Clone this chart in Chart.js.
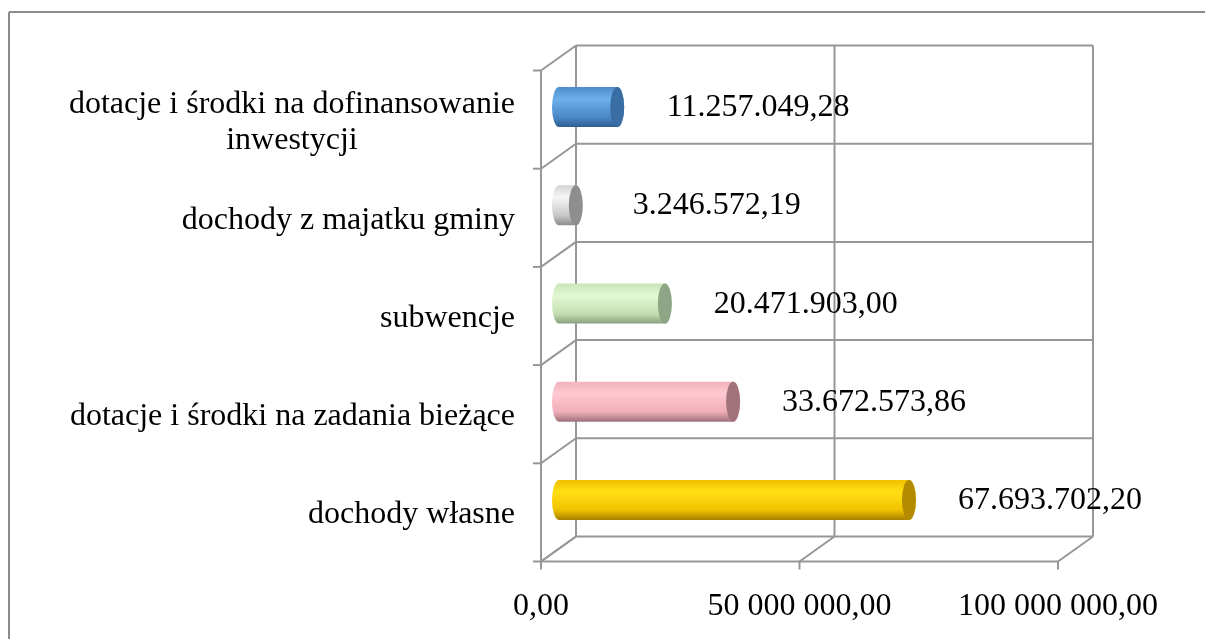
<!DOCTYPE html>
<html>
<head>
<meta charset="utf-8">
<script src="https://cdn.jsdelivr.net/npm/chart.js@4.4.1/dist/chart.umd.min.js"></script>
<style>
  html, body { margin: 0; padding: 0; background: #fff; overflow: hidden; }
  #wrap { width: 1205px; height: 639px; }
</style>
</head>
<body>
<div id="wrap"><canvas id="chart" width="1205" height="639"></canvas></div>
<script>
// data, top to bottom as in the picture
const categories = [
  ['dotacje i środki na dofinansowanie', 'inwestycji'],
  'dochody z majatku gminy',
  'subwencje',
  'dotacje i środki na zadania bieżące',
  'dochody własne'
];
const values = [11257049.28, 3246572.19, 20471903.00, 33672573.86, 67693702.20];
const valueLabels = ['11.257.049,28', '3.246.572,19', '20.471.903,00', '33.672.573,86', '67.693.702,20'];
const tickValues = [0, 50000000, 100000000];
const tickLabels = ['0,00', '50 000 000,00', '100 000 000,00'];

// cylinder shading: [top, highlight, lower, bottom] and cap colour
const bodyColors = [
  ['#4d8ccc', '#6db0ec', '#4a88c8', '#2f5e8e'],
  ['#d4d4d4', '#f6f6f6', '#c9c9c9', '#8a8a8a'],
  ['#c9e6b8', '#e2f8d4', '#c4e0b2', '#8aa27f'],
  ['#f3b2bd', '#ffc9d2', '#f0aeb9', '#9f727b'],
  ['#efc000', '#ffdf14', '#f0c200', '#a98000']
];
const capColors = ['#3a6ea3', '#8e8e8e', '#8da685', '#a2727b', '#b48b00'];

const FONT = '32px "Liberation Serif", "Times New Roman", serif';
const GRID = '#979797';
const BACK = { dx: 17, dy: -12.5 };
const FRONT = { dx: -18, dy: 12.5 };

function line(ctx, x1, y1, x2, y2) {
  ctx.beginPath();
  ctx.moveTo(x1, y1);
  ctx.lineTo(x2, y2);
  ctx.stroke();
}

const frame = {
  id: 'frame',
  beforeDraw(chart) {
    const ctx = chart.ctx;
    ctx.save();
    ctx.strokeStyle = '#8c8c8c';
    ctx.lineWidth = 2;
    line(ctx, 9, 12, 1205, 12);
    line(ctx, 9, 12, 9, 639);
    ctx.restore();
  }
};

const walls = {
  id: 'walls',
  beforeDatasetsDraw(chart) {
    const ctx = chart.ctx, xs = chart.scales.x, ys = chart.scales.y;
    const x0 = xs.getPixelForValue(0), xr = xs.getPixelForValue(tickValues[tickValues.length - 1]);
    const top = ys.getPixelForValue(-0.5), bottom = ys.getPixelForValue(categories.length - 0.5);
    ctx.save();
    ctx.strokeStyle = GRID;
    ctx.lineWidth = 2;
    // back wall + side wall
    for (let i = 0; i <= categories.length; i++) {
      const b = ys.getPixelForValue(i - 0.5);
      line(ctx, x0 + BACK.dx, b + BACK.dy, xr + BACK.dx, b + BACK.dy);
      line(ctx, x0 + FRONT.dx, b + FRONT.dy, x0 + BACK.dx, b + BACK.dy);
      line(ctx, x0 + FRONT.dx - 8, b + FRONT.dy, x0 + FRONT.dx, b + FRONT.dy);
    }
    line(ctx, x0 + FRONT.dx, top + FRONT.dy, x0 + FRONT.dx, bottom + FRONT.dy);
    // vertical gridlines + floor
    tickValues.forEach(v => {
      const xv = xs.getPixelForValue(v);
      line(ctx, xv + BACK.dx, top + BACK.dy, xv + BACK.dx, bottom + BACK.dy);
      line(ctx, xv + FRONT.dx, bottom + FRONT.dy, xv + BACK.dx, bottom + BACK.dy);
      line(ctx, xv + FRONT.dx, bottom + FRONT.dy, xv + FRONT.dx, bottom + FRONT.dy + 8);
    });
    line(ctx, x0 + FRONT.dx, bottom + FRONT.dy, xr + FRONT.dx, bottom + FRONT.dy);
    ctx.restore();
  }
};

const cylinders = {
  id: 'cylinders',
  afterDatasetsDraw(chart) {
    const ctx = chart.ctx;
    const meta = chart.getDatasetMeta(0);
    const rx = 7;
    meta.data.forEach((el, i) => {
      const x0 = el.base, x1 = el.x, yc = el.y, r = el.height / 2;
      const g = ctx.createLinearGradient(0, yc - r, 0, yc + r);
      const c = bodyColors[i];
      g.addColorStop(0, c[0]);
      g.addColorStop(0.3, c[1]);
      g.addColorStop(0.75, c[2]);
      g.addColorStop(1, c[3]);
      ctx.save();
      ctx.beginPath();
      ctx.moveTo(x0, yc - r);
      ctx.lineTo(x1, yc - r);
      ctx.ellipse(x1, yc, rx, r, 0, -Math.PI / 2, Math.PI / 2, false);
      ctx.lineTo(x0, yc + r);
      ctx.ellipse(x0, yc, rx, r, 0, Math.PI / 2, Math.PI * 1.5, false);
      ctx.closePath();
      ctx.fillStyle = g;
      ctx.fill();
      ctx.beginPath();
      ctx.ellipse(x1, yc, rx, r, 0, 0, Math.PI * 2);
      ctx.fillStyle = capColors[i];
      ctx.fill();
      ctx.restore();
    });
  }
};

const texts = {
  id: 'texts',
  afterDraw(chart) {
    const ctx = chart.ctx, xs = chart.scales.x, ys = chart.scales.y;
    const x0 = xs.getPixelForValue(0);
    const bottom = ys.getPixelForValue(categories.length - 0.5);
    ctx.save();
    ctx.font = FONT;
    ctx.fillStyle = '#000';
    ctx.textBaseline = 'alphabetic';
    // value axis labels
    ctx.textAlign = 'center';
    tickValues.forEach((v, i) => {
      ctx.fillText(tickLabels[i], xs.getPixelForValue(v) + FRONT.dx, bottom + FRONT.dy + 53);
    });
    // category labels, right aligned block, lines centred
    const right = x0 + FRONT.dx - 26;
    categories.forEach((lab, i) => {
      const lines = Array.isArray(lab) ? lab : [lab];
      const w = Math.max(...lines.map(s => ctx.measureText(s).width));
      const cy = ys.getPixelForValue(i) + FRONT.dy;
      const lh = 36;
      lines.forEach((s, k) => {
        const y = cy + (k - (lines.length - 1) / 2) * lh + 11;
        ctx.fillText(s, right - w / 2, y);
      });
    });
    // value labels
    values.forEach((v, i) => {
      ctx.fillText(valueLabels[i], xs.getPixelForValue(v) + 141, ys.getPixelForValue(i) + 9);
    });
    ctx.restore();
  }
};

new Chart(document.getElementById('chart'), {
  type: 'bar',
  data: {
    labels: categories,
    datasets: [{
      data: values,
      backgroundColor: 'rgba(0,0,0,0)',
      borderWidth: 0,
      barThickness: 40
    }]
  },
  options: {
    indexAxis: 'y',
    responsive: false,
    animation: false,
    events: [],
    layout: { padding: { left: 559, right: 129, top: 58, bottom: 90 } },
    plugins: { legend: { display: false }, tooltip: { enabled: false } },
    scales: {
      x: { display: false, min: 0, max: 100000000 },
      y: { display: false }
    }
  },
  plugins: [frame, walls, cylinders, texts]
});
</script>
</body>
</html>
